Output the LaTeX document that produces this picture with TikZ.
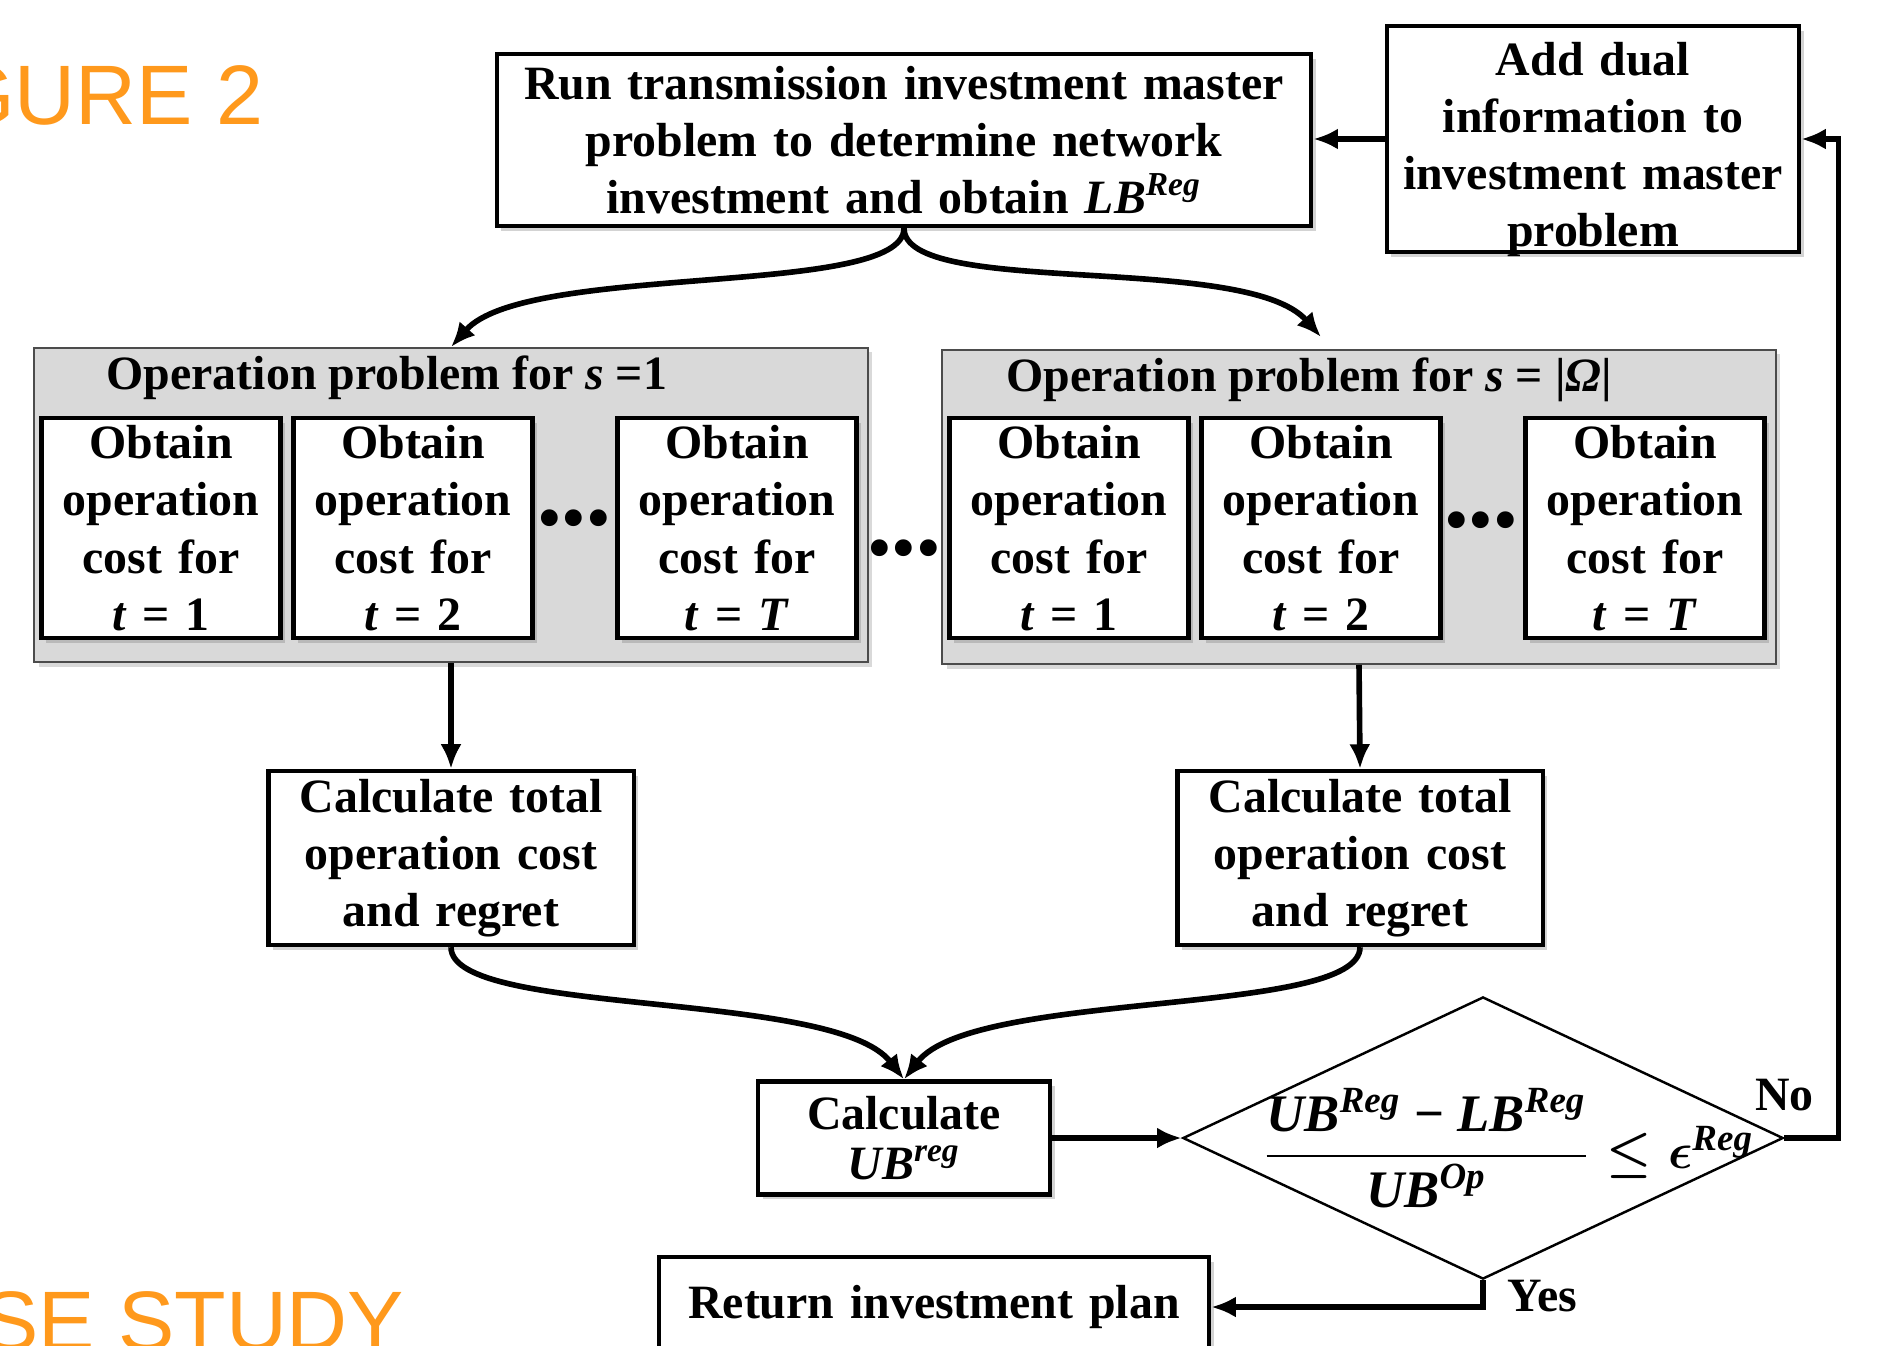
\documentclass[tikz,border=0pt]{standalone}
\usepackage{amsmath,amssymb}
\usepackage{fontspec}
\setmainfont{Liberation Serif}
\newfontfamily\slidefont{Liberation Sans}
\usetikzlibrary{positioning,calc,shapes.geometric,arrows.meta,shadows}
\definecolor{slideorange}{RGB}{255,153,28}
\definecolor{opgray}{RGB}{217,217,217}

\begin{document}
\begin{tikzpicture}[x=0.01cm, y=-0.01cm,
  font=\fontsize{13.6}{16.3}\selectfont\bfseries,
  stepbox/.style={draw, line width=1.2pt, fill=white, align=center, inner sep=2pt,
    drop shadow={shadow xshift=1.3pt, shadow yshift=-1.3pt, opacity=0.35}},
  tbox/.style={stepbox, minimum width=2.39cm, minimum height=2.2cm, text width=2.2cm},
  opbox/.style={draw=black!70, line width=0.5pt, fill=opgray, minimum width=8.33cm, minimum height=3.14cm,
    drop shadow={shadow xshift=1.3pt, shadow yshift=-1.3pt, opacity=0.3}},
  cond/.style={diamond, draw, line width=0.7pt, minimum width=6cm, minimum height=2.82cm, inner sep=0pt},
  arr/.style={line width=1.6pt, -{Latex[length=7pt,width=6pt]}},
  dotsmark/.style={inner sep=0pt, font=\fontsize{20}{20}\selectfont},
  slidetext/.style={anchor=base east, inner sep=0pt, text=slideorange, font=\slidefont\mdseries\fontsize{24}{28}\selectfont}]
\useasboundingbox (0,0) rectangle (1883,1345);
\clip (0,0) rectangle (1883,1345);
% Slide titles behind the figure
\node[slidetext] (figlabel) at (264,124) {GURE 2};
\node[slidetext] (caselabel) at (405,1350) {SE STUDY};
% Master problem and dual cut
\node[stepbox, minimum width=8.14cm, minimum height=1.72cm, text width=7.9cm] (master) at (904,140)
  {Run transmission investment master\\problem to determine network\\investment and obtain \textit{LB}\textsuperscript{\textit{Reg}}};
\node[stepbox, minimum width=4.12cm, minimum height=2.26cm, text width=3.95cm, inner ysep=1pt] (dual) at (1593,139)
  {\rule{0pt}{12.5pt}Add dual\\information to\\investment master\\\raisebox{0pt}[\height][0pt]{problem}};
% Operation problems
\node[opbox] (op1) at (451,505) {};
\node[opbox] (op2) at (1359,507) {};
\node[anchor=west, inner sep=0pt] (op1title) at (106,378) {Operation problem for \textit{s} =1};
\node[anchor=west, inner sep=0pt] (op2title) at (1006,380) {Operation problem for \textit{s} = |\textit{Ω}|};
\node[tbox] (a1) at (161,528) {Obtain\\operation\\cost for\\\textit{t} = 1};
\node[tbox] (a2) at (413,528) {Obtain\\operation\\cost for\\\textit{t} = 2};
\node[tbox] (aT) at (737,528) {Obtain\\operation\\cost for\\\textit{t} = \textit{T}};
\node[tbox] (b1) at (1069,528) {Obtain\\operation\\cost for\\\textit{t} = 1};
\node[tbox] (b2) at (1321,528) {Obtain\\operation\\cost for\\\textit{t} = 2};
\node[tbox] (bT) at (1645,528) {Obtain\\operation\\cost for\\\textit{t} = \textit{T}};
\node[dotsmark] (dotsA) at (574,526) {\textbullet\textbullet\textbullet};
\node[dotsmark] (dotsM) at (904,556) {\textbullet\textbullet\textbullet};
\node[dotsmark] (dotsB) at (1481,528) {\textbullet\textbullet\textbullet};
% Regret
\node[stepbox, minimum width=3.65cm, minimum height=1.74cm, text width=3.45cm] (calc1) at (451,858)
  {Calculate total\\operation cost\\and regret};
\node[stepbox, minimum width=3.65cm, minimum height=1.74cm, text width=3.45cm] (calc2) at (1360,858)
  {Calculate total\\operation cost\\and regret};
\node[stepbox, minimum width=2.92cm, minimum height=1.13cm, text width=2.7cm] (ub) at (904,1138)
  {Calculate\\[-2pt]\textit{UB}\textsuperscript{\textit{reg}}};
\node[cond] (dia) at (1483,1138) {};
\node[inner sep=0pt, font=\fontsize{15}{18}\selectfont\bfseries\boldmath] (crit) at (1508,1148)
  {$\dfrac{\text{\textit{UB}\textsuperscript{\textit{Reg}} − \textit{LB}\textsuperscript{\textit{Reg}}}}{\text{\textit{UB}\textsuperscript{\textit{Op}}}}\leq\boldsymbol{\epsilon}^{\text{\textit{Reg}}}$};
\node[stepbox, minimum width=5.5cm, minimum height=1cm, text width=5.3cm] (ret) at (934,1307)
  {Return investment plan};
\node (no) at ($(dia.east)+(0,-43)$) {No};
\node[anchor=west, inner sep=0pt] (yes) at ($(dia.south)+(24,16)$) {Yes};
% Connectors
\draw[arr] (master.south) .. controls +(0,70) and +(75,-85) .. (op1.north);
\draw[arr] (master.south) .. controls +(0,70) and +(-75,-85) .. ($(op2.north)+(-38,-12)$);
\draw[arr] (op1.south) -- (calc1.north);
\draw[arr] (op2.south) -- (calc2.north);
\draw[arr] (calc1.south) .. controls +(0,70) and +(-70,-90) .. (ub.north);
\draw[arr] (calc2.south) .. controls +(0,70) and +(70,-90) .. (ub.north);
\draw[arr] (ub.east) -- (dia.west);
\draw[arr] (dia.east) -- ++(54,0) |- (dual.east);
\draw[arr] (dual.west) -- (dual.west -| master.east);
\draw[arr] (dia.south) |- (ret.east);
\end{tikzpicture}
\end{document}
